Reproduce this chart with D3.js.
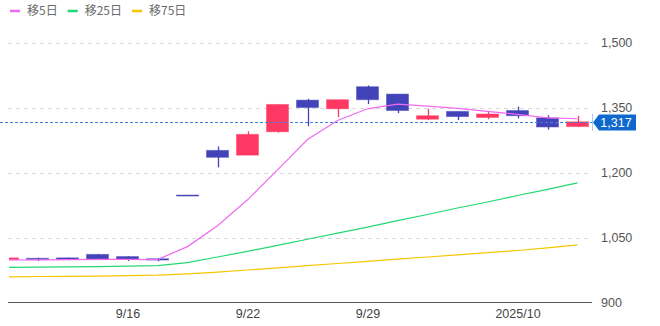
<!DOCTYPE html>
<html>
<head>
<meta charset="utf-8">
<script src="https://d3js.org/d3.v7.min.js"></script>
<style>
  body { margin: 0; background: #fff; }
  svg { display: block; font-family: "Liberation Sans", Arial, sans-serif; }
</style>
</head>
<body>
<svg width="660" height="326" id="chart"></svg>
<script>

var dates = ["9/9","9/10","9/11","9/12","9/16","9/17","9/18","9/19","9/22","9/24",
             "9/25","9/26","9/29","9/30","10/1","10/2","10/3","10/6","10/7","10/8"];
var openPrice  = [999, 1002, 1003, 1011, 1006, 1001, 1148, 1251, 1240, 1294, 1367, 1347, 1398, 1381, 1323, 1341, 1327, 1343, 1326, 1306];
var highPrice  = [1004, 1003, 1004, 1012, 1007, 1002, 1148, 1260, 1295, 1357, 1370, 1368, 1401, 1381, 1347, 1341, 1342, 1352, 1332, 1331];
var lowPrice   = [998, 996, 998, 998, 996, 995, 1148, 1212, 1240, 1292, 1307, 1328, 1358, 1337, 1321, 1321, 1323, 1325, 1299, 1306];
var closePrice = [1003, 999, 999, 999, 1000, 998, 1148, 1235, 1288, 1357, 1350, 1368, 1368, 1343, 1331, 1329, 1335, 1331, 1305, 1317];

var ma5  = [998, 998.5, 999, 999.5, 999.5, 999, 1029, 1077, 1137, 1206, 1276, 1320, 1347, 1358, 1353, 1348, 1341, 1334, 1326, 1324];
var ma25 = [981, 981.5, 982, 983, 984, 985, 992, 1005, 1018, 1032, 1046, 1060, 1074, 1089, 1103, 1118, 1132, 1147, 1161, 1176];
var ma75 = [959, 960, 960.5, 961, 962, 963, 966, 970, 975, 980, 985, 990, 995, 1000, 1005, 1010, 1015, 1020, 1026, 1033];

var lastPrice = 1317;
var yTicks = [900, 1050, 1200, 1350, 1500];
var xTickDates = ["9/16", "9/22", "9/29", "10/6"];
var xTickLabels = ["9/16", "9/22", "9/29", "2025/10"];

var legendNames = ["移5日", "移25日", "移75日"];
var legendColors = ["#f06af0", "#22d873", "#f7c600"];

var upColor = "#ff3763", downColor = "#4343b9";

var svg = d3.select("#chart"),
    plotLeft = 8, plotRight = 592, plotTop = 42.5, plotBottom = 302.5;

var x = d3.scalePoint()
    .domain(dates)
    .range([7.5, 577.5]);

var y = d3.scaleLinear()
    .domain([900, 1500])
    .range([plotBottom, plotTop]);

svg.append("defs").append("clipPath").attr("id", "plot")
  .append("rect")
    .attr("x", plotLeft + 1).attr("y", 0)
    .attr("width", plotRight - plotLeft - 1).attr("height", plotBottom);

// grid
svg.append("g")
  .selectAll("line")
  .data(yTicks.filter(function(d) { return d > 900; }))
  .join("line")
    .attr("x1", plotLeft).attr("x2", plotRight)
    .attr("y1", function(d) { return Math.round(y(d)) + 0.5; })
    .attr("y2", function(d) { return Math.round(y(d)) + 0.5; })
    .attr("stroke", "#d9d9d9")
    .attr("stroke-dasharray", "4,4");

svg.append("line")
    .attr("x1", plotLeft).attr("x2", plotRight)
    .attr("y1", plotBottom).attr("y2", plotBottom)
    .attr("stroke", "#555")
    .attr("stroke-width", 1);

var yAxis = d3.axisRight(y)
    .tickValues(yTicks)
    .tickFormat(d3.format(","))
    .tickSize(0)
    .tickPadding(0);

svg.append("g")
    .attr("transform", "translate(601,0)")
    .call(yAxis)
    .call(function(g) { g.select(".domain").remove(); })
  .selectAll("text")
    .attr("fill", "#555")
    .attr("font-size", 12.5);

var xAxis = d3.axisBottom(x)
    .tickValues(xTickDates)
    .tickFormat(function(d) { return xTickLabels[xTickDates.indexOf(d)]; })
    .tickSize(0)
    .tickPadding(6);

svg.append("g")
    .attr("transform", "translate(0," + (plotBottom + 1) + ")")
    .call(xAxis)
    .call(function(g) { g.select(".domain").remove(); })
  .selectAll("text")
    .attr("fill", "#444")
    .attr("font-size", 12.5);

// candles
var candles = svg.append("g")
    .attr("clip-path", "url(#plot)")
  .selectAll("g")
  .data(dates.map(function(d, i) {
    return {date: d, o: openPrice[i], h: highPrice[i], l: lowPrice[i], c: closePrice[i]};
  }))
  .join("g");

candles.append("line")
    .attr("x1", function(d) { return Math.round(x(d.date)) + 0.5; })
    .attr("x2", function(d) { return Math.round(x(d.date)) + 0.5; })
    .attr("y1", function(d) { return y(d.h); })
    .attr("y2", function(d) { return y(d.l); })
    .attr("stroke", function(d) { return d.c > d.o ? upColor : downColor; })
    .attr("stroke-width", 1.3);

candles.append("rect")
    .attr("x", function(d) { return x(d.date) - 11; })
    .attr("width", 22)
    .attr("y", function(d) { return y(Math.max(d.o, d.c)); })
    .attr("height", function(d) { return Math.max(1, Math.abs(y(d.o) - y(d.c))); })
    .attr("fill", function(d) { return d.c > d.o ? upColor : downColor; })
    .attr("stroke", function(d) { return d.c > d.o ? upColor : downColor; })
    .attr("stroke-opacity", 0.45)
    .attr("stroke-width", 1);

// moving averages
var line = d3.line()
    .x(function(d, i) { return x(dates[i]); })
    .y(function(d) { return y(d); });

svg.append("g")
    .attr("clip-path", "url(#plot)")
  .selectAll("path")
  .data([ma75, ma25, ma5])
  .join("path")
    .attr("d", line)
    .attr("fill", "none")
    .attr("stroke", function(d, i) { return legendColors[2 - i]; })
    .attr("stroke-width", 1.2);

// last price
var py = Math.round(y(lastPrice)) + 0.5;
svg.append("line")
    .attr("x1", 0).attr("x2", plotRight)
    .attr("y1", py).attr("y2", py)
    .attr("stroke", "#3c82d6")
    .attr("stroke-dasharray", "3,2");

svg.append("line")
    .attr("x1", plotRight + 0.5).attr("x2", plotRight + 0.5)
    .attr("y1", py - 8.5).attr("y2", py + 8.5)
    .attr("stroke", "#a9c9ee");

svg.append("path")
    .attr("d", "M" + (plotRight + 1) + "," + py + "L" + (plotRight + 7) + "," + (py - 8) +
               "H636V" + (py + 8) + "H" + (plotRight + 7) + "Z")
    .attr("fill", "#0e68cd");

svg.append("text")
    .attr("x", 616).attr("y", py)
    .attr("dy", "0.35em")
    .attr("text-anchor", "middle")
    .attr("fill", "#fff")
    .attr("font-size", 12.5)
    .text(d3.format(",")(lastPrice));

// legend
var lx = 10;
legendNames.forEach(function(name, i) {
  svg.append("line")
      .attr("x1", lx).attr("x2", lx + 10)
      .attr("y1", 11).attr("y2", 11)
      .attr("stroke", legendColors[i])
      .attr("stroke-width", 2.5);
  var t = svg.append("text")
      .attr("x", lx + 17).attr("y", 11)
      .attr("dy", "0.35em")
      .attr("fill", "#6a6a6a")
      .attr("font-size", 12)
      .attr("font-family", "'Noto Sans CJK JP', sans-serif")
      .text(name);
  lx += 17 + t.node().getComputedTextLength() + 10;
});

</script>
</body>
</html>
